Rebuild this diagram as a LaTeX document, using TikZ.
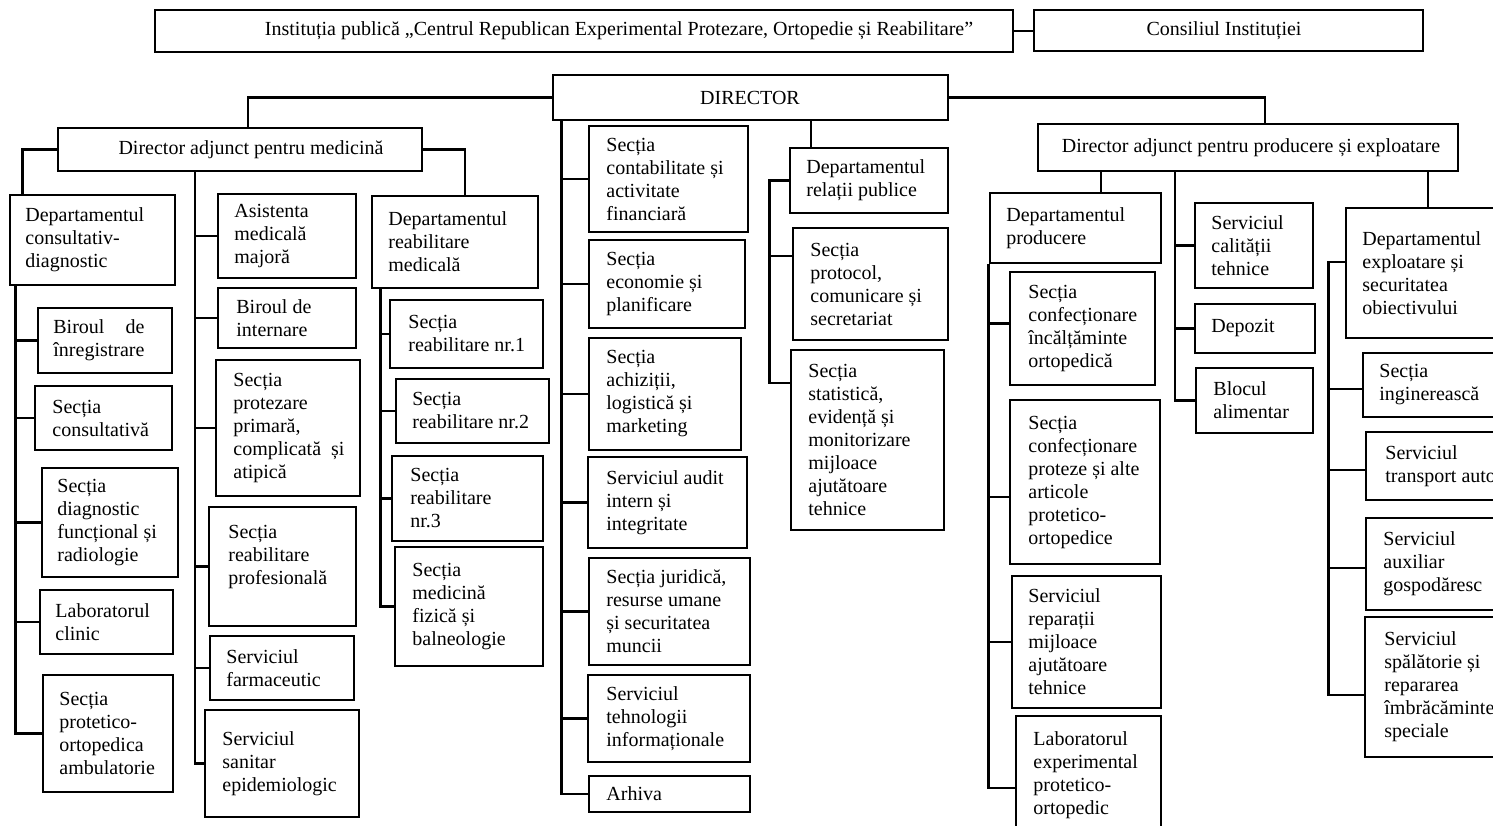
\documentclass[tikz,border=0pt]{standalone}
\usepackage{fontspec}
\setmainfont{Liberation Serif}
\usepackage{calc}
\tikzset{
  box/.style={draw, line width=1.4pt, inner sep=0pt, fill=white},
  txt/.style={font=\fontsize{10}{11.5}\selectfont, align=left, inner sep=0pt},
  conn/.style={line width=1.4pt},
  thinconn/.style={line width=0.6pt}
}
\newcommand{\bx}[7]{%
  \node[box, minimum width={(#4-#2)*0.5pt}, minimum height={(#5-#3)*0.5pt}] (#1) at ({(#2+#4)/2},{(#3+#5)/2}) {};
  \node[txt, anchor=west] (#1t) at (#6,{(#3+#5)/2}) {#7};}
\newcommand{\cbx}[7]{%
  \node[box, minimum width={(#4-#2)*0.5pt}, minimum height={(#5-#3)*0.5pt}] (#1) at ({(#2+#4)/2},{(#3+#5)/2}) {};
  \node[txt, anchor=center] (#1t) at (#6,{(#3+#5)/2}) {#7};}
\begin{document}
\begin{tikzpicture}[x=0.5pt, y=-0.5pt]
\useasboundingbox (0,0) rectangle (1493,825);
\fill[white] (0,0) rectangle (1493,825);
\clip (0,0) rectangle (1493,825);

% top level
\cbx{top}{155}{10}{1013}{52}{619}{Instituția publică „Centrul Republican Experimental Protezare, Ortopedie și Reabilitare”}
\cbx{cons}{1034}{10}{1423}{51}{1224}{Consiliul Instituției}
\cbx{dir}{553}{75}{948}{120}{750}{DIRECTOR}
\cbx{dam}{58}{128}{422}{171}{251}{Director adjunct pentru medicină}
\cbx{dap}{1038}{124}{1458}{171}{1251}{Director adjunct pentru producere și exploatare}

% column 1
\bx{dcd}{10}{195}{175}{285}{25}{Departamentul\\consultativ-\\diagnostic}
\bx{bi}{38}{308}{172}{373}{53}{\makebox[\widthof{înregistrare}][s]{Biroul de}\\înregistrare}
\bx{sc}{35}{386}{172}{450}{52}{Secția\\consultativă}
\bx{sd}{42}{468}{178}{577}{57}{Secția\\diagnostic\\funcțional și\\radiologie}
\bx{lc}{40}{590}{173}{654}{55}{Laboratorul\\clinic}
\bx{sp}{43}{675}{173}{792}{59}{Secția\\protetico-\\ortopedica\\ambulatorie}

% column 2
\bx{am}{218}{194}{356}{278}{234}{Asistenta\\medicală\\majoră}
\bx{bint}{218}{288}{356}{348}{236}{Biroul de\\internare}
\bx{spz}{216}{360}{360}{496}{233}{Secția\\protezare\\primară,\\complicată \ și\\atipică}
\bx{srp}{209}{507}{356}{626}{228}{Secția\\reabilitare\\profesională\\\mbox{}}
\bx{sf}{210}{636}{354}{700}{226}{Serviciul\\farmaceutic}
\bx{sse}{205}{710}{359}{817}{222}{Serviciul\\sanitar\\epidemiologic}

% column 3
\bx{drm}{372}{196}{538}{288}{388}{Departamentul\\reabilitare\\medicală}
\bx{ra}{390}{300}{543}{368}{408}{Secția\\reabilitare nr.1}
\bx{rb}{396}{379}{549}{443}{412}{Secția\\reabilitare nr.2}
\bx{rc}{392}{456}{543}{541}{410}{Secția\\reabilitare\\nr.3}
\bx{rm}{395}{547}{543}{666}{412}{Secția\\medicină\\fizică și\\balneologie}

% column 4
\bx{ca}{589}{126}{748}{232}{606}{Secția\\contabilitate și\\activitate\\financiară}
\bx{cb}{589}{240}{745}{328}{606}{Secția\\economie și\\planificare}
\bx{cc}{589}{338}{741}{450}{606}{Secția\\achiziții,\\logistică și\\marketing}
\bx{cd}{588}{457}{747}{548}{606}{Serviciul audit\\intern și\\integritate}
\bx{ce}{589}{558}{750}{665}{606}{Secția juridică,\\resurse umane\\și securitatea\\muncii}
\bx{cf}{588}{675}{750}{762}{606}{Serviciul\\tehnologii\\informaționale}
\bx{cg}{589}{776}{750}{812}{606}{Arhiva}

% column 5
\bx{drp}{790}{148}{948}{213}{806}{Departamentul\\relații publice}
\bx{pr}{793}{228}{948}{340}{810}{Secția\\protocol,\\comunicare și\\secretariat}
\bx{st}{791}{350}{944}{530}{808}{Secția\\statistică,\\evidență și\\monitorizare\\mijloace\\ajutătoare\\tehnice}

% column 6
\bx{dpr}{990}{193}{1161}{263}{1006}{Departamentul\\producere}
\bx{pa}{1010}{272}{1155}{385}{1028}{Secția\\confecționare\\încălțăminte\\ortopedică}
\bx{pb}{1010}{400}{1160}{564}{1028}{Secția\\confecționare\\proteze și alte\\articole\\protetico-\\ortopedice}
\bx{pc}{1012}{576}{1161}{708}{1028}{Serviciul\\reparații\\mijloace\\ajutătoare\\tehnice}
\bx{pd}{1016}{716}{1161}{834}{1033}{Laboratorul\\experimental\\protetico-\\ortopedic}

% column 7
\bx{qa}{1195}{203}{1313}{288}{1211}{Serviciul\\calității\\tehnice}
\bx{qb}{1195}{304}{1315}{353}{1211}{Depozit}
\bx{qc}{1196}{368}{1313}{433}{1213}{Blocul\\alimentar}

% column 8
\bx{de}{1346}{208}{1510}{338}{1362}{Departamentul\\exploatare și\\securitatea\\obiectivului}
\bx{ea}{1363}{353}{1510}{417}{1379}{Secția\\inginerească}
\bx{eb}{1366}{432}{1510}{500}{1385}{Serviciul\\transport auto}
\bx{ec}{1366}{518}{1510}{610}{1383}{Serviciul\\auxiliar\\gospodăresc}
\bx{ed}{1365}{617}{1510}{757}{1384}{Serviciul\\spălătorie și\\repararea\\îmbrăcăminte\\speciale}

% ---- connectors ----
\draw[conn] (top.east) -- (top.east -| cons.west);
\draw[conn] (dir.west) -| ([xshift=4pt]dam.north);
\draw[conn] (dir.east) -| ([xshift=8.5pt]dap.north);

% director direct trunk
\coordinate (k4) at ([xshift=5pt]dir.south west);
\draw[conn] (k4) |- (cg.west);
\foreach \n in {ca,cb,cc,cd,ce,cf} \draw[conn] (\n.west) -- (\n.west -| k4);

% relatii publice
\draw[conn] ([xshift=-29pt]drp.north) -- ([xshift=-29pt]drp.north |- dir.south);
\coordinate (k5) at ([xshift=-9.5pt]drp.west);
\draw[conn] (drp.west) -- (k5) |- ([yshift=28.5pt]st.west);
\draw[conn] ([yshift=14pt]pr.west) -- ([yshift=14pt]pr.west -| k5);

% medicina
\draw[conn] (dam.west) -| ([xshift=7pt]dcd.north west);
\draw[conn] (dam.east) -| ([xshift=5pt]drm.north);
\coordinate (k2) at ([xshift=-22.5pt]dam.south);
\draw[conn] (k2) |- (sse.west);
\foreach \n in {am,bint,spz,srp,sf} \draw[conn] (\n.west) -- (\n.west -| k2);

\coordinate (k1) at ([xshift=3.5pt]dcd.south west);
\draw[conn] (k1) |- (sp.west);
\foreach \n in {bi,sc,sd,lc} \draw[conn] (\n.west) -- (\n.west -| k1);

\coordinate (k3) at ([xshift=5pt]drm.south west);
\draw[conn] (k3) |- (rm.west);
\foreach \n in {ra,rb,rc} \draw[conn] (\n.west) -- (\n.west -| k3);

% producere
\draw[conn] ([xshift=12.75pt]dpr.north) -- ([xshift=12.75pt]dpr.north |- dap.south);
\coordinate (k6) at (dpr.south west);
\draw[conn] (k6) |- ([yshift=-6.5pt]pd.west);
\draw[conn] ([yshift=2.5pt]pa.west) -- ([yshift=2.5pt]pa.west -| k6);
\draw[thinconn] ([yshift=-7.5pt]pb.west) -- ([yshift=-7.5pt]pb.west -| k6);
\draw[conn] (pc.west) -- (pc.west -| k6);

\coordinate (k7) at ([xshift=-36.5pt]dap.south);
\draw[conn] (k7) |- (qc.west);
\foreach \n in {qa,qb} \draw[conn] (\n.west) -- (\n.west -| k7);

\draw[conn] (de.north) -- (de.north |- dap.south);
\coordinate (k8) at ([xshift=-8pt,yshift=5.5pt]de.west);
\draw[conn] ([yshift=5.5pt]de.west) -- (k8) |- ([yshift=-4pt]ed.west);
\foreach \n in {ea,eb,ec} \draw[conn] ([yshift=-2pt]\n.west) -- ([yshift=-2pt]\n.west -| k8);
\end{tikzpicture}
\end{document}
